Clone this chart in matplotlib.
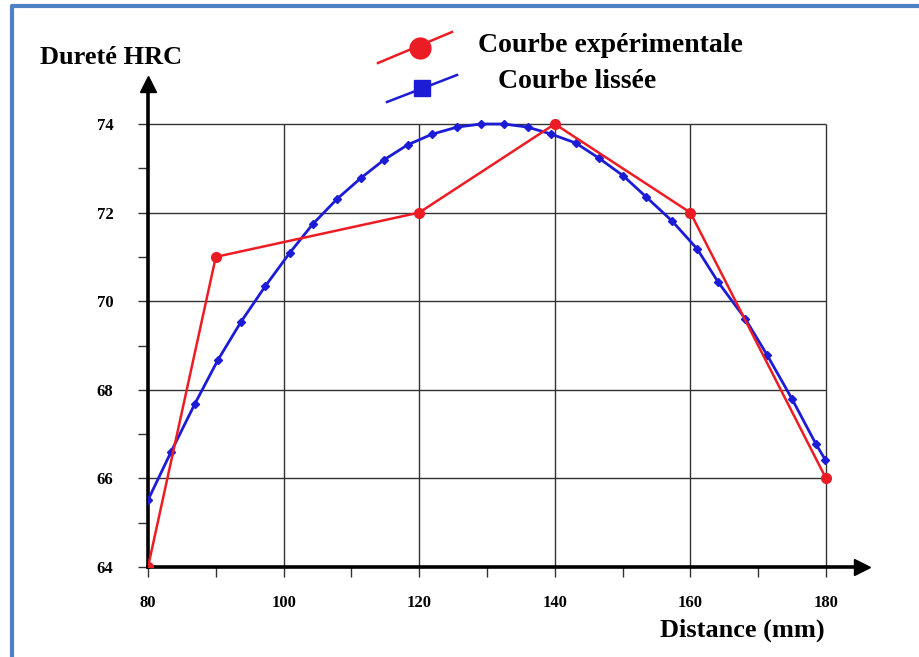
import numpy as np
import matplotlib.pyplot as plt
from matplotlib.lines import Line2D

# experimental points
x_exp = [80, 90, 120, 140, 160, 180]
y_exp = [64, 71, 72, 74, 72, 66]

# smoothed curve (markers)
x_lis = [80.0, 83.4, 86.9, 90.3, 93.7, 97.3, 100.9, 104.3, 107.9, 111.4,
         114.8, 118.3, 121.9, 125.6, 129.1, 132.5, 136.0, 139.5, 143.1, 146.5,
         150.1, 153.5, 157.3, 161.0, 164.1, 168.1, 171.3, 175.0, 178.5, 179.9]
y_lis = [65.51, 66.60, 67.68, 68.67, 69.53, 70.34, 71.09, 71.74, 72.31, 72.78,
         73.19, 73.53, 73.77, 73.93, 74.00, 74.00, 73.93, 73.77, 73.57, 73.23,
         72.83, 72.35, 71.81, 71.18, 70.43, 69.60, 68.79, 67.79, 66.78, 66.42]

xticks = [80, 100, 120, 140, 160, 180]
yticks = [64, 66, 68, 70, 72, 74]

RED = '#ec1c24'
BLUE = '#1c1cd6'
W, H = 920, 657
serif = ['Liberation Serif', 'DejaVu Serif']

fig = plt.figure(figsize=(W / 100, H / 100), dpi=100)

def fx(px):
    return px / W

def fy(py):
    return 1 - py / H

# axes placed in pixel terms
x0, x1, y0, y1 = 80, 185.3, 64, 74.9
sx, sy = 6.78, 44.3
ax = fig.add_axes([fx(148), fy(567), (x1 - x0) * sx / W, (y1 - y0) * sy / H])
ax.set_xlim(x0, x1)
ax.set_ylim(y0, y1)

# grid inside the box only
ax.hlines(yticks[1:], 80, 180, color='#333333', lw=1.0, zorder=1)
ax.vlines(xticks[1:], 64, 74, color='#333333', lw=1.0, zorder=1)

ax.plot(x_lis, y_lis, color=BLUE, lw=2, marker='D', ms=4.5, zorder=3)
ax.plot(x_exp, y_exp, color=RED, lw=1.8, marker='o', ms=7, zorder=4)

for s in ['top', 'right']:
    ax.spines[s].set_visible(False)
for s in ['left', 'bottom']:
    ax.spines[s].set_linewidth(2.6)
    ax.spines[s].set_zorder(2)

# arrow heads
ax.plot(1, 0, '>', color='black', ms=11, transform=ax.transAxes, clip_on=False)
ax.plot(0, 1, '^', color='black', ms=11, transform=ax.transAxes, clip_on=False)

ax.set_xticks(xticks)
ax.set_yticks(yticks)
ax.set_xticks([90, 110, 130, 150, 170], minor=True)
ax.set_yticks([65, 67, 69, 71, 73], minor=True)
ax.tick_params(which='both', direction='out', length=7, width=1, color='#333333')
ax.tick_params(axis='x', pad=13)
ax.tick_params(axis='y', pad=18)
for lab in ax.get_xticklabels() + ax.get_yticklabels():
    lab.set_family(serif)
    lab.set_fontweight('bold')
    lab.set_fontsize(12)

fig.text(fx(40), fy(58), 'Dureté HRC', family=serif, weight='bold', fontsize=19,
         va='center', ha='left')
fig.text(fx(825), fy(630), 'Distance (mm)', family=serif, weight='bold', fontsize=19,
         va='center', ha='right')

# legend drawn by hand
fig.add_artist(Line2D([fx(378), fx(452)], [fy(63), fy(32)], color=RED, lw=1.8))
fig.add_artist(Line2D([fx(420)], [fy(48)], color=RED, marker='o', ms=15))
fig.add_artist(Line2D([fx(387), fx(457)], [fy(102), fy(75)], color=BLUE, lw=1.8))
fig.add_artist(Line2D([fx(422)], [fy(88)], color=BLUE, marker='s', ms=12))
fig.text(fx(478), fy(46), 'Courbe expérimentale', family=serif, weight='bold',
         fontsize=20, va='center', ha='left')
fig.text(fx(498), fy(82), 'Courbe lissée', family=serif, weight='bold',
         fontsize=20, va='center', ha='left')

# blue frame (left and top edges)
fig.add_artist(Line2D([fx(12), fx(12), fx(W + 5)], [fy(H + 5), fy(6), fy(6)],
                      color='#4f81c7', lw=3))

plt.savefig('out.png', dpi=100)
